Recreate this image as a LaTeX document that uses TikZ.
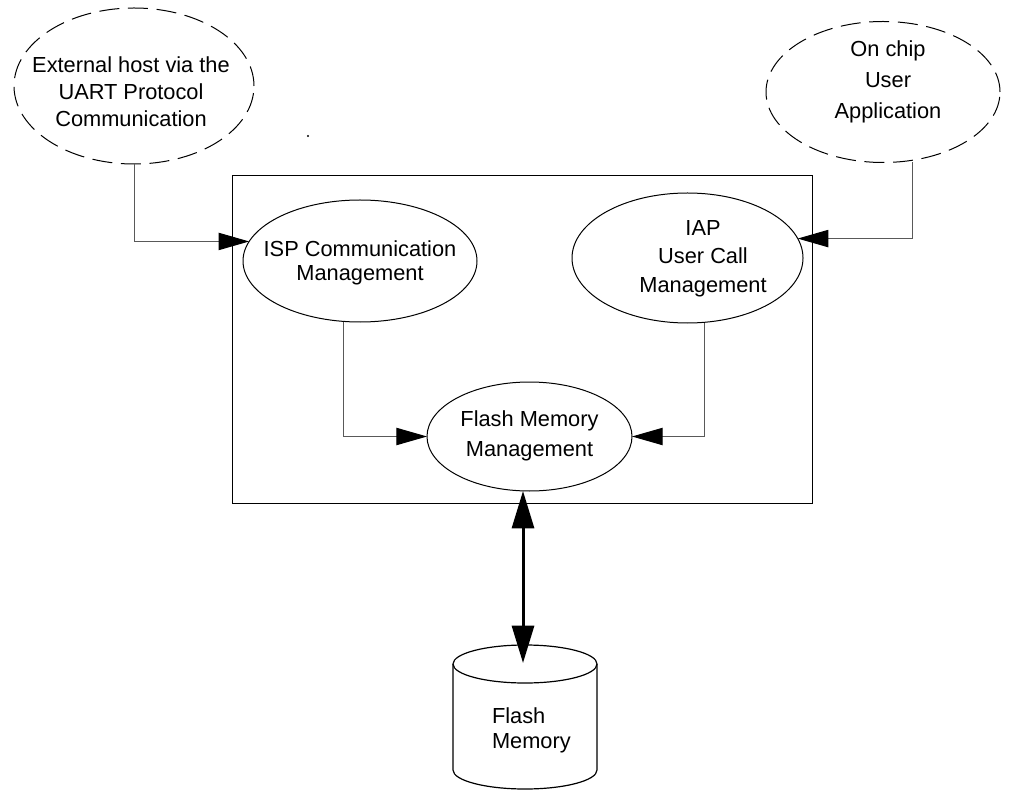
\documentclass[tikz,border=0pt]{standalone}
\usepackage{fontspec}
\setmainfont{Liberation Sans}
\usetikzlibrary{arrows.meta,shapes.geometric}
\begin{document}
\begin{tikzpicture}[x=0.75pt,y=-0.75pt,
  every node/.style={inner sep=0pt,outer sep=0pt},
  lbl/.style={align=center,font=\fontsize{16.35}{#1}\selectfont},
  oval/.style={ellipse,draw=black,line width=0.75pt},
  dashoval/.style={ellipse,draw=black,line width=0.75pt,dash pattern=on 15pt off 6.5pt},
  conn/.style={draw=gray!70!black,line width=0.75pt,-{Triangle[length=23pt,width=13pt,black]}},
  biarrow/.style={draw=black,line width=2.25pt,{Triangle[length=28pt,width=16.5pt]}-{Triangle[length=28pt,width=16.5pt]}},
  cyl/.style={draw=black,line width=0.9pt}
]
\useasboundingbox (0,0) rectangle (1009,791);

% outer ovals
\node[dashoval,minimum width=180pt,minimum height=117pt] (tl) at (134,86) {};
\node[lbl=20.2pt] (tltxt) at (131,92) {External host via the\\UART Protocol\\Communication};
\node[dashoval,minimum width=175.5pt,minimum height=105.75pt] (tr) at (883,92) {};
\node[lbl=23.5pt] (trtxt) at (888,82) {On chip\\User\\Application};

\fill (308,136) circle[radius=1.2];

% container
\node[draw=black,line width=0.75pt,minimum width=435pt,minimum height=245.25pt] (box) at (522,339.5) {};

% inner ovals
\node[oval,minimum width=175.5pt,minimum height=91.5pt] (isp) at (360,261) {};
\node[lbl=18pt] (isptxt) at (360,262.5) {ISP Communication\\Management};
\node[oval,minimum width=173.25pt,minimum height=97.5pt] (iap) at (687.5,258) {};
\node[lbl=21.4pt] (iaptxt) at (703,258.5) {IAP\\User Call\\Management};
\node[oval,minimum width=153.75pt,minimum height=81.75pt] (fmm) at (529.5,436.5) {};
\node[lbl=22.5pt] (fmmtxt) at (529.5,435.5) {Flash Memory\\Management};

% flash memory cylinder
\draw[cyl] (453,664) -- (453,770) arc[start angle=180,end angle=0,x radius=72,y radius=19] -- (597,664);
\draw[cyl] (525,664) ellipse[x radius=72,y radius=19];
\node[lbl=18.75pt,align=left,anchor=west] (fm) at (492,730) {Flash\\Memory};
\coordinate (fmtop) at (523,663);

% routing coordinates
\coordinate (xl) at (343,0);
\coordinate (xr) at (704,0);
\coordinate (xtr) at (912,0);

% connectors
\draw[conn] (tl.south) |- (isp.170);
\draw[conn] (tr.south -| xtr) |- (iap.10);
\draw[conn] (isp.south -| xl) |- (fmm.west);
\draw[conn] (iap.south -| xr) |- (fmm.east);
\draw[biarrow] (fmtop |- fmm.south) -- (fmtop);
\end{tikzpicture}
\end{document}
